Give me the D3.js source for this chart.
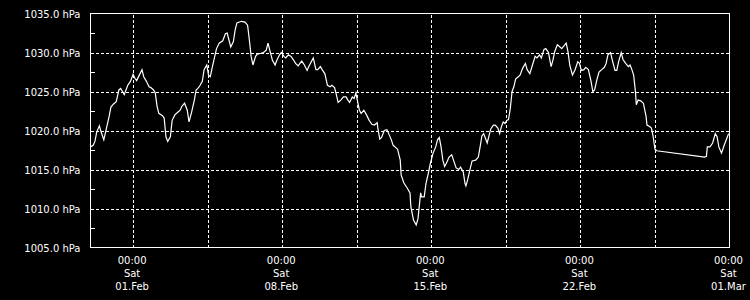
<!DOCTYPE html>
<html>
<head>
<meta charset="utf-8">
<script src="https://cdn.jsdelivr.net/npm/d3@7"></script>
<style>
    body { margin: 0; background: #000; }
    svg { display: block; background: #000; }
    text { font-family: "DejaVu Sans", sans-serif; font-size: 10px; fill: #fff; }
    .grid line { stroke: #fff; stroke-width: 1; stroke-dasharray: 3,2; shape-rendering: crispEdges; }
    .grid .domain { display: none; }
</style>
</head>
<body>
<script>
// hourly readings, hours counted from 30 Jan 00:00 (UTC)
var start_time = Date.UTC(2025, 0, 30, 0, 0);

var hours = [
    0,3,5,7,10,12,15,18,21,23,
    26,29,32,34,36,38,40,42,45,48,
    50,52,55,58,60,63,66,68,71,73,
    75,77,81,83,85,87,90,92,95,98,
    101,103,106,109,111,114,117,119,121,123,
    126,128,131,133,135,137,140,142,145,149,
    152,154,156,158,161,163,165,170,174,177,
    179,181,183,186,188,192,195,198,200,202,
    205,208,210,213,215,218,220,223,226,229,
    231,234,236,238,241,244,246,251,254,256,
    259,261,264,267,270,272,275,277,279,282,
    285,288,290,292,295,297,299,301,303,305,
    308,311,314,317,320,323,324,326,328,331,
    334,336,339,341,344,346,349,350,353,357,
    360,361,364,367,369,372,373,376,378,381,
    383,386,389,391,393,395,397,399,401,404,
    407,409,412,415,417,420,422,423,425,428,
    430,434,437,439,441,443,445,447,449,451,
    454,456,459,461,463,465,467,469,471,473,
    475,477,479,482,484,487,490,492,495,498,
    501,503,506,508,511,513,516,519,521,523,
    526,528,531,533,536,538,540,543,546,549,
    551,553,556,558,561,564,566,568,571,573,
    576,579,581,583,586,588,591,593,595,598,
    600,603,606,608,610,612,614,615,617,620,
    623,626,627,630,632,634,636,638,692,694,
    695,698,701,704,706,708,711,714,717,719
];

var pressure = [
    1017.9,1018.1,1018.6,1019.8,1020.6,1019.8,1018.8,1020.3,1021.8,1023.0,
    1023.4,1023.7,1025.2,1025.4,1025.0,1024.6,1025.2,1025.8,1026.3,1027.2,
    1026.7,1026.4,1027.1,1027.8,1026.9,1026.3,1025.6,1025.5,1025.2,1024.8,
    1023.1,1022.2,1021.9,1021.6,1019.2,1018.6,1019.2,1021.3,1022.0,1022.3,
    1022.6,1023.1,1023.5,1022.6,1021.1,1022.4,1023.9,1025.2,1025.4,1025.7,
    1026.3,1027.8,1028.4,1027.1,1026.9,1028.0,1029.5,1030.5,1031.2,1031.5,
    1032.4,1032.5,1031.6,1030.7,1031.4,1032.9,1033.8,1034.0,1033.9,1033.5,
    1031.6,1029.5,1028.4,1029.5,1029.8,1029.9,1030.0,1030.3,1031.2,1030.3,
    1029.0,1028.4,1029.0,1029.7,1030.0,1029.5,1029.3,1029.7,1029.5,1029.0,
    1028.6,1028.3,1028.6,1028.9,1028.4,1027.7,1028.2,1029.3,1027.8,1027.8,
    1028.2,1027.8,1027.3,1025.8,1025.6,1025.8,1025.5,1024.6,1023.6,1023.9,
    1024.3,1024.3,1023.9,1023.6,1024.3,1024.1,1024.8,1023.7,1022.6,1022.2,
    1022.6,1022.0,1021.3,1020.8,1020.7,1021.0,1020.1,1018.9,1019.1,1020.0,
    1020.1,1019.6,1018.8,1018.1,1017.8,1017.6,1016.2,1014.3,1013.3,1012.6,
    1012.0,1010.2,1008.5,1007.9,1008.7,1012.0,1011.5,1011.5,1013.2,1014.7,
    1015.8,1017.1,1017.9,1018.8,1019.1,1017.9,1016.2,1015.4,1015.8,1016.6,
    1016.9,1016.2,1015.2,1015.0,1015.3,1014.7,1013.2,1012.9,1013.7,1015.2,
    1016.1,1016.2,1016.6,1017.9,1019.3,1019.6,1019.0,1018.4,1019.3,1020.2,
    1020.7,1020.7,1020.3,1019.6,1020.5,1021.1,1020.9,1021.3,1021.4,1022.8,
    1025.0,1025.6,1026.6,1026.9,1027.1,1028.0,1028.6,1027.8,1027.3,1028.4,
    1029.5,1029.3,1029.7,1029.3,1030.4,1030.5,1030.0,1028.2,1029.0,1030.1,
    1031.0,1030.8,1030.5,1030.8,1031.2,1030.1,1028.4,1027.1,1027.8,1028.8,
    1028.6,1027.7,1027.8,1028.1,1027.8,1026.3,1025.0,1025.2,1026.7,1027.5,
    1027.8,1028.1,1028.6,1029.7,1030.0,1029.0,1027.7,1027.7,1028.8,1030.0,
    1029.1,1028.6,1028.2,1028.4,1027.8,1027.1,1025.0,1023.3,1023.9,1023.8,
    1023.5,1021.8,1020.7,1020.5,1020.3,1019.2,1017.6,1017.4,1016.6,1016.7,
    1017.9,1017.9,1018.4,1019.6,1019.2,1017.9,1017.1,1018.1,1019.0,1019.6
];

var y_labels = [1005, 1010, 1015, 1020, 1025, 1030, 1035];
var y_grid = [1010, 1015, 1020, 1025, 1030];
var y_minor = [1007.5, 1012.5, 1017.5, 1022.5, 1027.5, 1032.5];
// gridlines every 3.5 days, labels on the saturdays
var grid_days = [0, 3.5, 7, 10.5, 14, 17.5, 21, 24.5];
var label_days = [0, 7, 14, 21, 28];

var HOUR = 3600 * 1000, DAY = 24 * HOUR;
var feb1 = Date.UTC(2025, 1, 1);

var data = hours.map((h, i) => ({ date: new Date(start_time + h * HOUR), value: pressure[i] }));

var plot_l = 90.5, plot_r = 729.5, plot_t = 13.5, plot_b = 247.5;

var x = d3.scaleUtc()
    .domain([new Date(start_time), new Date(Date.UTC(2025, 2, 1))])
    .range([plot_l, plot_r]);
var y = d3.scaleLinear().domain([1005, 1035]).range([plot_b, plot_t]);

var svg = d3.select("body").append("svg").attr("width", 750).attr("height", 300);

// grids
svg.append("g").attr("class", "grid")
    .attr("transform", "translate(" + plot_l + ",0)")
    .call(d3.axisLeft(y).tickValues(y_grid).tickSize(-(plot_r - plot_l)).tickFormat(""));

svg.append("g").attr("class", "grid")
    .attr("transform", "translate(0," + plot_b + ")")
    .call(d3.axisBottom(x).tickValues(grid_days.map(d => new Date(feb1 + d * DAY))).tickSize(-(plot_b - plot_t)).tickFormat(""));

// minor ticks on the left
var minor = svg.append("g")
    .attr("transform", "translate(" + plot_l + ",0)")
    .call(d3.axisRight(y).tickValues(y_minor).tickSize(4).tickFormat(""));
minor.select(".domain").remove();
minor.selectAll("line").attr("stroke", "#fff").style("shape-rendering", "crispEdges");

// frame
svg.append("rect")
    .attr("x", plot_l).attr("y", plot_t)
    .attr("width", plot_r - plot_l).attr("height", plot_b - plot_t)
    .attr("fill", "none").attr("stroke", "#fff")
    .style("shape-rendering", "crispEdges");

// y labels
var yl = svg.append("g")
    .attr("transform", "translate(" + plot_l + ",0)")
    .call(d3.axisLeft(y).tickValues(y_labels).tickSize(0).tickPadding(10)
        .tickFormat(d => d3.format(".1f")(d) + " hPa"));
yl.select(".domain").remove();
yl.selectAll("text").attr("fill", "#fff").attr("font-family", "DejaVu Sans").attr("font-size", 10).attr("dy", "0.37em");

// x labels, three lines
var fmt_time = d3.utcFormat("%H:%M"), fmt_day = d3.utcFormat("%a"), fmt_date = d3.utcFormat("%d.%b");
var xl = svg.append("g")
    .attr("transform", "translate(0," + plot_b + ")")
    .call(d3.axisBottom(x).tickValues(label_days.map(d => new Date(feb1 + d * DAY))).tickSize(0).tickFormat(""));
xl.select(".domain").remove();
xl.selectAll(".tick text").each(function (d) {
    var t = d3.select(this).attr("y", null).attr("dy", null).attr("x", -1.5)
        .attr("fill", "#fff").attr("font-family", "DejaVu Sans").attr("font-size", 10);
    [fmt_time(d), fmt_day(d), fmt_date(d)].forEach((s, i) => {
        t.append("tspan").attr("x", -1.5).attr("y", 16 + i * 13.25).text(s);
    });
});

// pressure line
svg.append("path")
    .datum(data)
    .attr("fill", "none")
    .attr("stroke", "#fff")
    .attr("stroke-width", 1.2)
    .attr("d", d3.line().x(d => x(d.date)).y(d => y(d.value)));
</script>
</body>
</html>
